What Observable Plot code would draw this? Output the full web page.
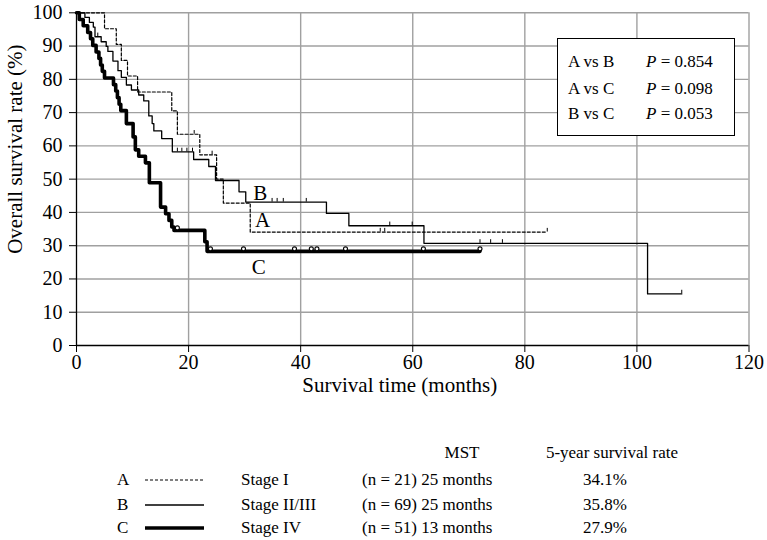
<!DOCTYPE html>
<html><head><meta charset="utf-8">
<script src="https://cdn.jsdelivr.net/npm/d3@7"></script>
<script src="https://cdn.jsdelivr.net/npm/@observablehq/plot@0.6"></script>
<style>
body{margin:0;background:#fff;font-family:"Liberation Serif","Times New Roman",serif;}
#wrap{position:relative;width:767px;height:540px;overflow:hidden;background:#fff;}
#wrap svg, #wrap svg text{font-family:"Liberation Serif","Times New Roman",serif !important;}
.t{position:absolute;white-space:nowrap;line-height:20px;height:20px;color:#000;}
#pbox{position:absolute;border:1.5px solid #000;background:#fff;box-sizing:border-box;}
</style></head><body><div id="wrap"></div>
<script>
// ---- Data ----
const groups = ["A","B","C"];
const xTicks = [0,20,40,60,80,100,120];
const yTicks = [0,10,20,30,40,50,60,70,80,90,100];

// Curve A: Stage I (dashed)
const timeA = [0,5,7.1,8,9.1,10.9,17,18,22,25,26.2,31];
const survA = [100,95.2,90.5,85.7,81,76.2,70.5,63.5,57.3,50,42.8,34.1];
const endA = 84;
const censorTimeA = [21,24.2,54.2,55,84];
const censorSurvA = [63.5,57.3,34.1,34.1,34.1];

// Curve B: Stage II/III (thin)
const timeB = [0,1.5,2.3,3,3.3,4.4,5.3,5.6,6.5,7.4,8,8.9,9.8,11.1,12,12.9,13.5,13.8,15.2,17.1,20.9,23.6,24.8,29,30.2,44.6,48.6,62,101.9];
const survB = [100,98.6,97.1,95.7,92.8,91.3,89.9,88.4,85.5,82.6,80.6,78.3,76.8,75.3,73.5,69,66.7,64.5,62.2,58.2,55.9,53.8,49.6,46.2,43.1,39.7,36,30.7,15.5];
const endB = 108;
const censorTimeB = [3.8,18,18.8,19.7,20.7,34.9,35.8,36.9,41,55.9,59.9,72,73.9,76,108];
const censorSurvB = [92.8,58.2,58.2,58.2,58.2,43.1,43.1,43.1,43.1,36,36,30.7,30.7,30.7,15.5];

// Curve C: Stage IV (thick)
const timeC = [0,0.5,1.2,2,2.5,2.9,3.5,4,4.3,4.6,5,6.6,7,7.3,7.6,7.9,8.9,10.1,10.5,11.1,12.3,13,15,15.9,16.5,17,17.4,22.9,23.3];
const survC = [100,98,96.1,94.1,92.2,90.2,88.2,86.3,84.3,82.4,80.4,78.4,76.5,74.5,72.5,70.6,66.7,62.7,58.8,56.9,54.9,48.9,41.6,39.6,37.6,35.6,34.6,31.2,28.3];
const endC = 72;
const censorTimeC = [18,23.9,29.8,38.9,41.9,42.9,48,61.9,72];
const censorSurvC = [34.6,28.3,28.3,28.3,28.3,28.3,28.3,28.3,28.3];

// Curve labels
const labelNames = ["B","A","C"];
const labelTimes = [32.8,33.2,32.5];
const labelSurvs = [45.8,37.6,23.4];

// P-value box
const comparisons = ["A vs B","A vs C","B vs C"];
const pValues = ["0.854","0.098","0.053"];

// Legend table
const stageNames = ["Stage I","Stage II/III","Stage IV"];
const stageN = [21,69,51];
const stageMST = [25,25,13];
const fiveYear = ["34.1%","35.8%","27.9%"];

// ---- Build tables ----
function stepRows(times, survs, end){
  const rows = times.map((t,i)=>({t, s: survs[i]}));
  rows.push({t: end, s: survs[survs.length-1]});
  return rows;
}
const lineA = stepRows(timeA, survA, endA);
const lineB = stepRows(timeB, survB, endB);
const lineC = stepRows(timeC, survC, endC);
const ticksAB = censorTimeA.map((t,i)=>({t, s: censorSurvA[i]}))
  .concat(censorTimeB.map((t,i)=>({t, s: censorSurvB[i]})));
const circlesC = censorTimeC.map((t,i)=>({t, s: censorSurvC[i]}));
const curveLabels = labelNames.map((n,i)=>({n, t: labelTimes[i], s: labelSurvs[i]}));

const grid = "#a0a0a0";
const serif = "Liberation Serif, Times New Roman, serif";
const chart = Plot.plot({
  width: 767,
  height: 400,
  marginLeft: 76,
  marginRight: 18.5,
  marginTop: 12.3,
  marginBottom: 55,
  style: {fontFamily: serif, fontSize: "20px", background: "white", color: "black"},
  x: {domain: [0,120]},
  y: {domain: [0,100]},
  marks: [
    Plot.ruleY(yTicks.filter(d=>d>0), {stroke: grid, strokeWidth: 1.4}),
    Plot.ruleX(xTicks.filter(d=>d>0), {stroke: grid, strokeWidth: 1.4}),
    Plot.line(lineA, {x: "t", y: "s", curve: "step-after", stroke: "black", strokeWidth: 1.2, strokeDasharray: "3,2"}),
    Plot.line(lineB, {x: "t", y: "s", curve: "step-after", stroke: "black", strokeWidth: 1.3}),
    Plot.line(lineC, {x: "t", y: "s", curve: "step-after", stroke: "black", strokeWidth: 3.6}),
    Plot.ruleX(ticksAB, {x: "t", y1: "s", y2: d => d.s + 1.1, stroke: "black", strokeWidth: 1}),
    Plot.dot(circlesC, {x: "t", y: "s", r: 2, dy: -2.5, stroke: "black", fill: "white", strokeWidth: 1.1}),
    Plot.text(curveLabels, {x: "t", y: "s", text: "n", fontSize: 21, fontFamily: serif}),
    Plot.ruleY([0], {stroke: "black", strokeWidth: 1.3}),
    Plot.ruleX([0], {stroke: "black", strokeWidth: 1.3}),
    Plot.axisX({ticks: xTicks, tickSize: 7, tickPadding: 2, fontSize: 20, fontFamily: serif, label: null}),
    Plot.axisY({ticks: yTicks, tickSize: 7, tickPadding: 7, fontSize: 20, fontFamily: serif, label: null}),
    Plot.text(["Survival time (months)"], {frameAnchor: "bottom", lineAnchor: "middle", textAnchor: "middle", dx: -13, dy: 40, fontSize: 21, fontFamily: serif}),
    Plot.text(["Overall survival rate (%)"], {frameAnchor: "left", lineAnchor: "middle", textAnchor: "middle", rotate: -90, dx: -61, dy: -30, fontSize: 21, fontFamily: serif})
  ]
});
const wrap = document.getElementById("wrap");
chart.style.position = "absolute";
chart.style.left = "0px";
chart.style.top = "0px";
wrap.appendChild(chart);

function addText(txt, left, cy, size, align){
  const d = document.createElement("div");
  d.className = "t";
  d.style.fontSize = size + "px";
  d.style.top = (cy - 10) + "px";
  if (align === "center") { d.style.left = (left - 200) + "px"; d.style.width = "400px"; d.style.textAlign = "center"; }
  else d.style.left = left + "px";
  d.innerHTML = txt;
  wrap.appendChild(d);
  return d;
}

// P-value box
const box = document.createElement("div");
box.id = "pbox";
box.style.left = "557px"; box.style.top = "38px"; box.style.width = "178px"; box.style.height = "98px";
wrap.appendChild(box);
const pRowY = [62, 88.5, 114];
comparisons.forEach((c,i)=>{
  addText(c, 568, pRowY[i], 17);
  addText("<i>P</i> = " + pValues[i], 646, pRowY[i], 17);
});

// Legend table
addText("MST", 462, 453, 17, "center");
addText("5-year survival rate", 612, 453, 17, "center");
const rowY = [480, 505, 528];
const dashes = ["3,2", null, null];
const widths = [1.2, 1.3, 3.6];
groups.forEach((g,i)=>{
  addText(g, 117, rowY[i], 17);
  const svgNS = "http://www.w3.org/2000/svg";
  const s = document.createElementNS(svgNS, "svg");
  s.setAttribute("width", 60); s.setAttribute("height", 10);
  s.style.position = "absolute"; s.style.left = "145px"; s.style.top = (rowY[i] - 5) + "px";
  const ln = document.createElementNS(svgNS, "line");
  ln.setAttribute("x1", 0); ln.setAttribute("x2", 59); ln.setAttribute("y1", 5); ln.setAttribute("y2", 5);
  ln.setAttribute("stroke", "black"); ln.setAttribute("stroke-width", widths[i]);
  if (dashes[i]) ln.setAttribute("stroke-dasharray", dashes[i]);
  s.appendChild(ln);
  wrap.appendChild(s);
  addText(stageNames[i], 241, rowY[i], 17);
  addText("(n = " + stageN[i] + ") " + stageMST[i] + " months", 362, rowY[i], 17);
  addText(fiveYear[i], 605, rowY[i], 17, "center");
});
</script></body></html>
